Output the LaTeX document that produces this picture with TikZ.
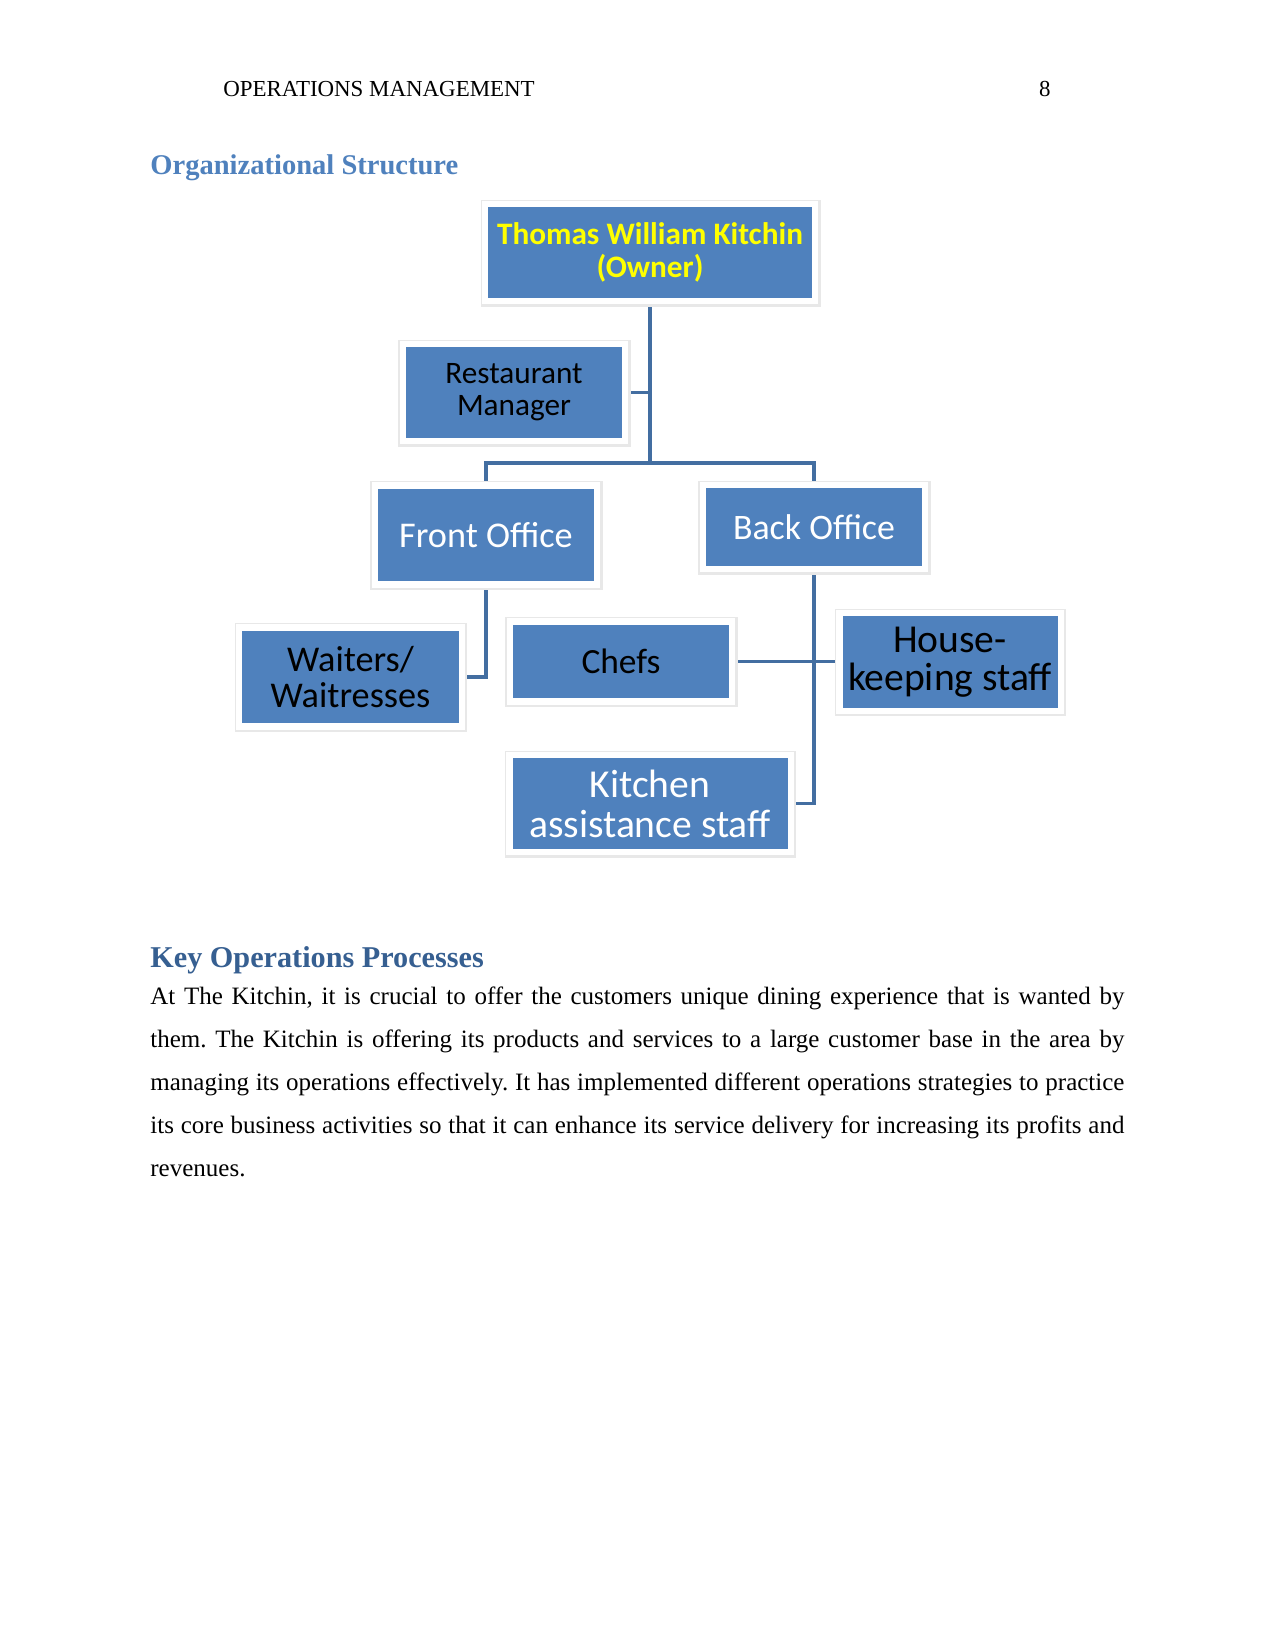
\documentclass[tikz,border=0pt]{standalone}
\usepackage{fontspec}
\setmainfont{Liberation Serif}
\newfontfamily\boxfont{Carlito}
\usetikzlibrary{positioning, backgrounds}

\definecolor{boxblue}{HTML}{4F81BD}
\definecolor{linkblue}{HTML}{436EA1}
\definecolor{headblue}{HTML}{4F81BD}
\definecolor{headdark}{HTML}{365F91}
\definecolor{ownertext}{HTML}{FFFF00}

\begin{document}
\frenchspacing
\begin{tikzpicture}[
        x=0.48pt, y=-0.48pt,
        orgbox/.style={rectangle, fill=boxblue, draw=white, line width=3pt, inner sep=0pt, align=center, minimum width=106.7pt, minimum height=46.7pt, preaction={draw=black!9, line width=4.8pt, transform canvas={shift={(0.3pt,-0.4pt)}}}},
        link/.style={draw=linkblue, line width=1.6pt},
        heading/.style={anchor=base west, inner sep=0pt, font=\bfseries\fontsize{13.7}{16}\selectfont, text=headblue},
        body_text/.style={anchor=base west, inner sep=0pt, font=\fontsize{12}{20.64}\selectfont, text width=467.5pt, align=justify}
    ]
        \useasboundingbox (0,0) rectangle (1275,1650);

        % running head
        \node[anchor=base west, inner sep=0pt, font=\fontsize{11}{13}\selectfont] (runhead) at (223, 97) {OPERATIONS MANAGEMENT};
        \node[anchor=base east, inner sep=0pt, font=\fontsize{11}{13}\selectfont] (pageno) at (1051, 97) {8};

        \node[heading] (org_title) at (150, 175) {Organizational Structure};

        % chart
        \node[orgbox, minimum width=158.5pt, font=\boxfont\bfseries\fontsize{15}{15.5}\selectfont, text=ownertext] (owner) at (650, 252.5) {Thomas William Kitchin\\(Owner)};
        \node[orgbox, font=\boxfont\fontsize{15}{15.5}\selectfont, text=black] (manager) at (514, 392.5) {Restaurant\\Manager};
        \node[orgbox, minimum height=47.6pt, font=\boxfont\fontsize{17.4}{17.5}\selectfont, text=white] (front) at (486, 535) {Front Office};
        \node[orgbox, minimum height=40.4pt, font=\boxfont\fontsize{17.2}{17.5}\selectfont, text=white] (back) at (814, 527) {Back Office};
        \node[orgbox, minimum height=47.6pt, font=\boxfont\fontsize{17.4}{17}\selectfont, text=black] (waiters) at (350.5, 677) {Waiters/\\Waitresses};
        \node[orgbox, minimum height=38.5pt, font=\boxfont\fontsize{17}{17.5}\selectfont, text=black] (chefs) at (621, 661.5) {Chefs};
        \node[orgbox, minimum width=106.2pt, font=\boxfont\fontsize{19}{18.4}\selectfont, text=black] (housekeeping) at (950, 662) {House-\\keeping staff};
        \node[orgbox, minimum width=135pt, font=\boxfont\fontsize{19}{19.2}\selectfont, text=white] (kitchen) at (650, 803.5) {Kitchen\\assistance staff};

        \coordinate (barlevel) at (0, 463);

        \begin{pgfonlayer}{background}
            \fill[white] (0,0) rectangle (1275,1650);
            \draw[link] (owner.south) -- (owner.south |- barlevel);
            \draw[link] (manager.east) -- (manager.east -| owner.south);
            \draw[link] (front.north) |- (owner.south |- barlevel) -| (back.north);
            \draw[link] (front.south) |- (waiters.east);
            \draw[link] (back.south) |- (kitchen.east);
            \draw[link] (chefs.east) -- (chefs.east -| housekeeping.west);
        \end{pgfonlayer}

        \node[heading, text=headdark, font=\bfseries\fontsize{14.5}{17}\selectfont] (ops_title) at (150, 967) {Key Operations Processes};

        \node[body_text] (ops_body) at (150, 1004) {\hyphenpenalty=10000 At The Kitchin, it is crucial to offer the customers unique dining experience that is wanted by\linebreak them. The Kitchin is offering its products and services to a large customer base in the area by\linebreak managing its operations effectively. It has implemented different operations strategies to practice\linebreak its core business activities so that it can enhance its service delivery for increasing its profits and\linebreak revenues.};

    \end{tikzpicture}
\end{document}
